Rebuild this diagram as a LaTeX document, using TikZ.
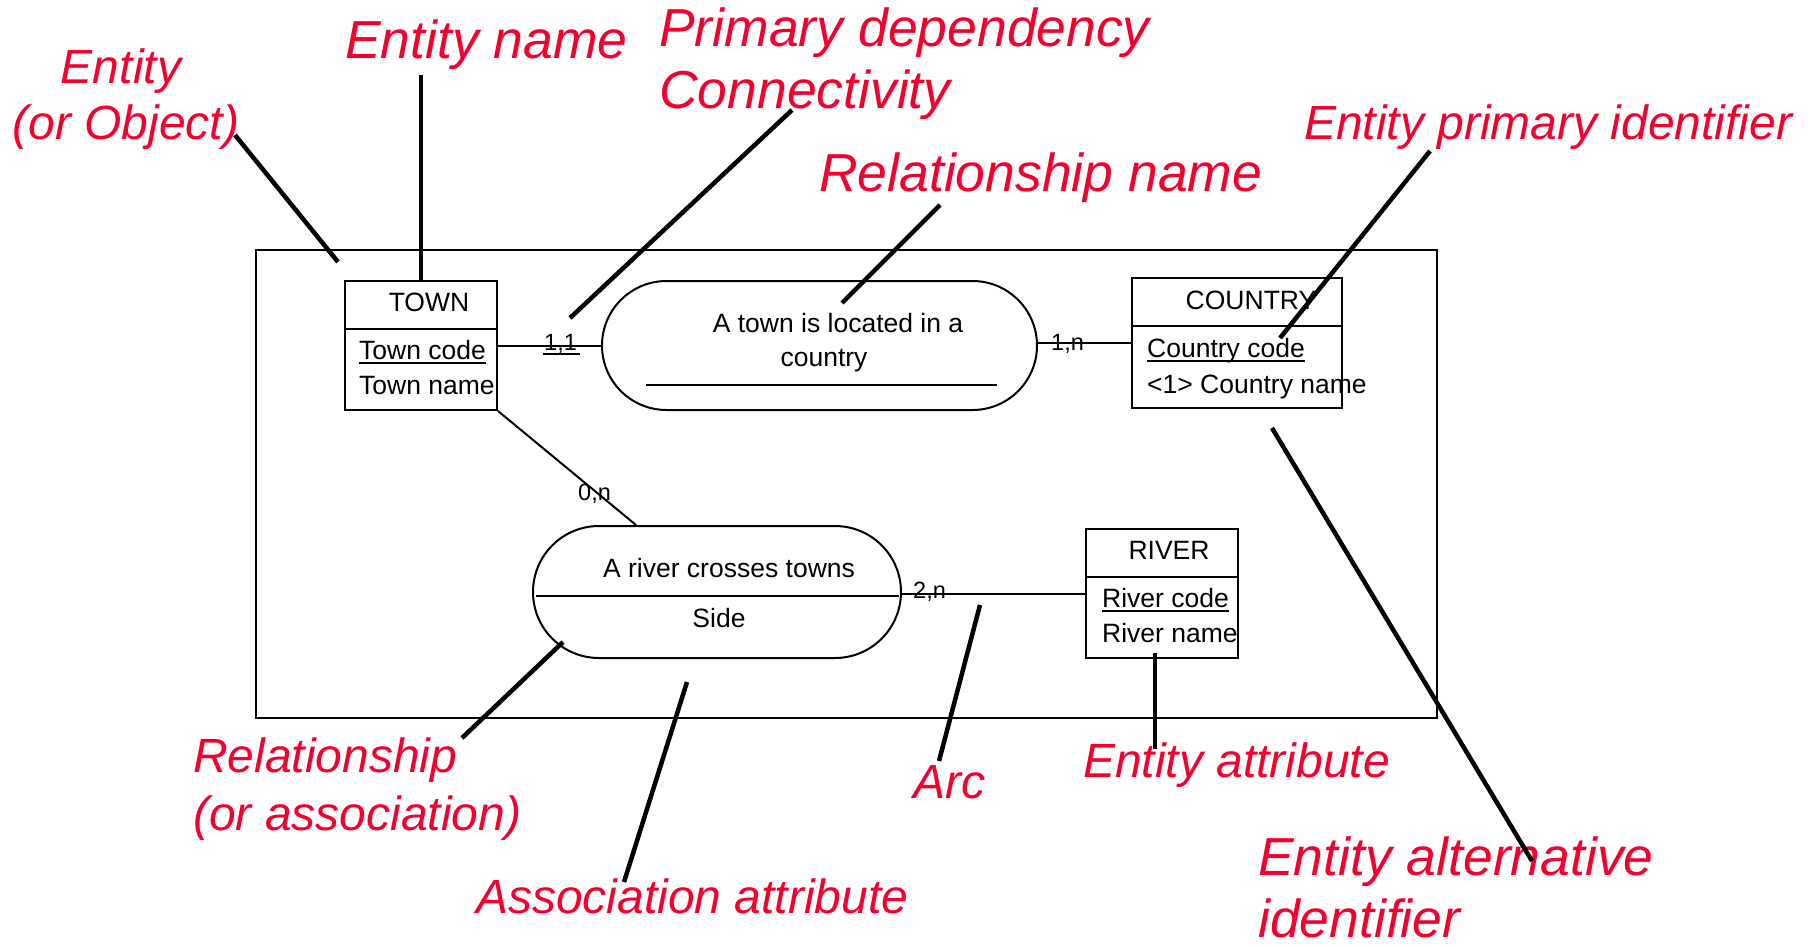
\documentclass[tikz,border=0pt]{standalone}
\usepackage{fontspec}
\setmainfont{Liberation Sans}
\definecolor{lblred}{RGB}{245,0,45}
\begin{document}
\begin{tikzpicture}[x=1pt,y=-1pt,
  lbl/.style={text=lblred, font=\fontsize{53.5}{60}\selectfont\itshape, inner sep=0pt, anchor=base west},
  lbls/.style={text=lblred, font=\fontsize{48}{56}\selectfont\itshape, inner sep=0pt, anchor=base west},
  lead/.style={line width=4.5pt},
  thin/.style={line width=2pt},
  entbox/.style={draw, line width=2pt, inner sep=0pt},
  relbox/.style={draw, line width=2pt, inner sep=0pt},
  txt/.style={font=\fontsize{26.5}{31}\selectfont, inner sep=0pt},
  attr/.style={txt, anchor=base west},
  card/.style={font=\fontsize{23.5}{27}\selectfont, inner sep=0pt, anchor=base west}]
\useasboundingbox (0,0) rectangle (1813,946);

% outer frame
\draw[thin] (255.5,250) rectangle (1437,718);

% TOWN entity
\node[entbox, minimum width=152pt, minimum height=129pt] (town) at (421,345.5) {};
\draw[thin] (town.west |- 0,329) -- (town.east |- 0,329);
\node[txt] (townt) at (429,302) {TOWN};
\node[attr] (tcode) at (359,359) {Town code};
\draw[thin] ([yshift=-4pt]tcode.base west) -- ([yshift=-4pt]tcode.base east);
\node[attr] (tname) at (359,394) {Town name};

% COUNTRY entity
\node[entbox, minimum width=210pt, minimum height=130pt] (country) at (1237,343) {};
\draw[thin] (country.west |- 0,326) -- (country.east |- 0,326);
\node[txt] (countryt) at (1251,300) {COUNTRY};
\node[attr] (ccode) at (1147,357) {Country code};
\draw[thin] ([yshift=-4pt]ccode.base west) -- ([yshift=-4pt]ccode.base east);
\node[attr] (cname) at (1147,393) {<1> Country name};

% RIVER entity
\node[entbox, minimum width=152pt, minimum height=129pt] (river) at (1162,593.5) {};
\draw[thin] (river.west |- 0,577) -- (river.east |- 0,577);
\node[txt] (rivert) at (1169,550) {RIVER};
\node[attr] (rcode) at (1102,607) {River code};
\draw[thin] ([yshift=-4pt]rcode.base west) -- ([yshift=-4pt]rcode.base east);
\node[attr] (rname) at (1102,642) {River name};

% Relationship 1
\node[relbox, rounded corners=64.5pt, minimum width=435pt, minimum height=129pt] (rel1) at (819.5,345.5) {};
\node[txt, anchor=base] (r1a) at (838,332) {A town is located in a};
\node[txt, anchor=base] (r1b) at (824,366) {country};
\draw[thin] (646,385) -- (997,385);

% Relationship 2
\node[relbox, rounded corners=66pt, minimum width=368pt, minimum height=132pt] (rel2) at (717,592) {};
\node[txt, anchor=base] (r2a) at (729,577) {A river crosses towns};
\node[txt, anchor=base] (r2b) at (719,627) {Side};
\draw[thin] (536,596) -- (899,596);

% connectors
\draw[thin] (town.east) -- (rel1.west);
\node[card] (c11) at (544,350) {1,1};
\draw[thin] (543,354) -- (580,354);
\draw[thin] (rel1.east |- country.west) -- (country.west);
\node[card] (c1n) at (1051,350) {1,n};
\draw[thin] (town.south east) -- (rel2.north -| 636,0);
\node[card] (c0n) at (578,500) {0,n};
\draw[thin] (rel2.east |- river.west) -- (river.west);
\node[card] (c2n) at (913,598) {2,n};

% red labels and leaders
\node[lbls, anchor=base] (lentity) at (121,83) {Entity};
\node[lbls, anchor=base] (lobject) at (126,139) {(or Object)};
\coordinate (a1) at (235,135); \coordinate (a2) at (338,262);
\draw[lead] (a1) -- (a2);

\node[lbl] (lname) at (345,58) {Entity name};
\coordinate (b1) at (421,75);
\draw[lead] (b1) -- (town.north);

\node[lbl] (lprim) at (659,46) {Primary dependency};
\node[lbl] (lconn) at (659,108) {Connectivity};
\coordinate (c1) at (792,110); \coordinate (c2) at (570,318);
\draw[lead] (c1) -- (c2);

\node[lbl] (lrel) at (819,191) {Relationship name};
\coordinate (d1) at (940,205); \coordinate (d2) at (842,303);
\draw[lead] (d1) -- (d2);

\node[lbls] (lpid) at (1304,139) {Entity primary identifier};
\coordinate (e1) at (1430,151); \coordinate (e2) at (1280,338);
\draw[lead] (e1) -- (e2);

\node[lbl] (lalt1) at (1258,875) {Entity alternative};
\node[lbl] (lalt2) at (1258,937) {identifier};
\coordinate (f1) at (1272,428); \coordinate (f2) at (1532,861);
\draw[lead] (f1) -- (f2);

\node[lbls] (lattr) at (1083,777) {Entity attribute};
\coordinate (g1) at (1155,653); \coordinate (g2) at (1155,749);
\draw[lead] (g1) -- (g2);

\node[lbls] (larc) at (913,798) {Arc};
\coordinate (h1) at (980,605); \coordinate (h2) at (939,761);
\draw[lead] (h1) -- (h2);

\node[lbls] (lassoc) at (476,913) {Association attribute};
\coordinate (i1) at (687,682); \coordinate (i2) at (624,882);
\draw[lead] (i1) -- (i2);

\node[lbls] (lrel1) at (193,772) {Relationship};
\node[lbls] (lrel2) at (193,830) {(or association)};
\coordinate (j1) at (563,642); \coordinate (j2) at (462,738);
\draw[lead] (j1) -- (j2);
\end{tikzpicture}
\end{document}
